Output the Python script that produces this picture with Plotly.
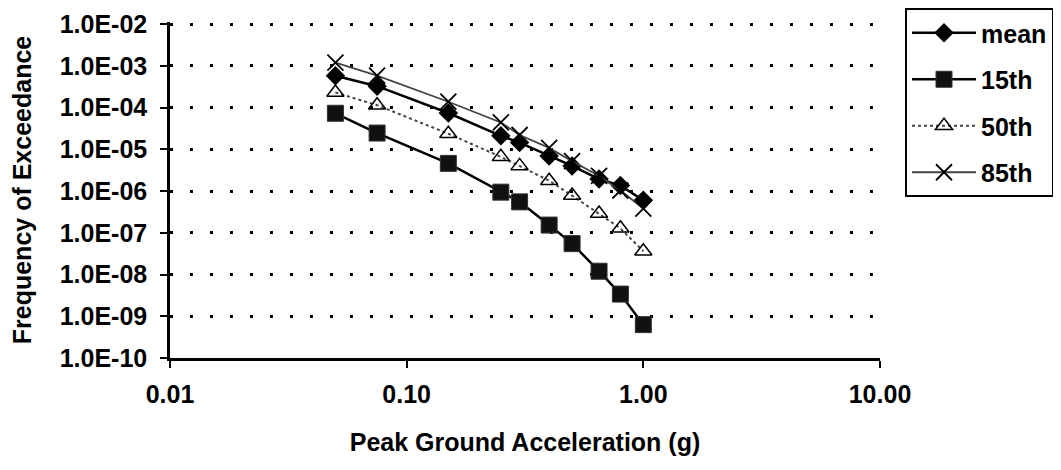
import plotly.graph_objects as go

pga = [0.05, 0.075, 0.15, 0.25, 0.3, 0.4, 0.5, 0.65, 0.8, 1.0]
mean_vals = [5.8e-4, 3.25e-4, 7.4e-5, 2.1e-5, 1.45e-5, 6.9e-6, 4.0e-6, 1.94e-6, 1.35e-6, 6.0e-7]
p15_vals = [7.3e-5, 2.45e-5, 4.6e-6, 9.4e-7, 5.5e-7, 1.53e-7, 5.5e-8, 1.2e-8, 3.4e-9, 6.3e-10]
p50_vals = [2.3e-4, 1.14e-4, 2.36e-5, 6.6e-6, 4.0e-6, 1.77e-6, 7.8e-7, 2.9e-7, 1.28e-7, 3.6e-8]
p85_vals = [1.2e-3, 5.8e-4, 1.38e-4, 4.4e-5, 2.2e-5, 1.08e-5, 5.2e-6, 2.3e-6, 1.03e-6, 3.8e-7]

series_names = ["mean", "15th", "50th", "85th"]

x_tickvals = [0.01, 0.1, 1, 10]
x_ticktext = ["0.01", "0.10", "1.00", "10.00"]
y_tickvals = [1e-2, 1e-3, 1e-4, 1e-5, 1e-6, 1e-7, 1e-8, 1e-9, 1e-10]
y_ticktext = ["1.0E-02", "1.0E-03", "1.0E-04", "1.0E-05", "1.0E-06",
              "1.0E-07", "1.0E-08", "1.0E-09", "1.0E-10"]

FONT = "Liberation Sans"
FS = 25

fig = go.Figure()

fig.add_trace(go.Scatter(
    x=pga, y=mean_vals, name=series_names[0], mode="lines+markers", legendgroup="a",
    line=dict(color="black", width=2.5),
    marker=dict(symbol="diamond", size=15, color="black", line=dict(width=0)),
))
fig.add_trace(go.Scatter(
    x=pga, y=p15_vals, name=series_names[1], mode="lines+markers", legendgroup="b",
    line=dict(color="black", width=2.5),
    marker=dict(symbol="square", size=16, color="#111111", line=dict(width=1, color="#333333")),
))
fig.add_trace(go.Scatter(
    x=pga, y=p50_vals, name=series_names[2], mode="lines+markers", legendgroup="c",
    line=dict(color="#444444", width=2, dash="dot"),
    marker=dict(symbol="triangle-up-open", size=15, color="black", line=dict(width=1.5)),
))
fig.add_trace(go.Scatter(
    x=pga, y=p85_vals, name=series_names[3], mode="lines+markers", legendgroup="d",
    line=dict(color="#444444", width=1.8),
    marker=dict(symbol="x-thin-open", size=16, color="black", line=dict(width=1.8, color="black")),
))

fig.update_layout(
    width=1061, height=470,
    margin=dict(l=162, r=189, t=14, b=120, autoexpand=False),
    paper_bgcolor="white", plot_bgcolor="white",
    font=dict(family=FONT, size=FS, color="black"),
    showlegend=True,
    legend=dict(
        xref="container", yref="container",
        x=897 / 1061, y=1.0, xanchor="left", yanchor="top",
        bordercolor="black", borderwidth=2, bgcolor="white",
        font=dict(family=FONT, size=FS, color="black", weight="bold"),
        traceorder="grouped", tracegroupgap=11, itemwidth=64,
    ),
    xaxis=dict(
        type="log", range=[-2, 1],
        tickvals=x_tickvals, ticktext=x_ticktext,
        tickfont=dict(family=FONT, size=FS, weight="bold"),
        ticklabelstandoff=5,
        showgrid=False, zeroline=False,
        showline=True, linecolor="black", linewidth=2.5,
        ticks="outside", ticklen=7, tickwidth=2, tickcolor="black",
        title=dict(text="Peak Ground Acceleration (g)",
                   font=dict(family=FONT, size=FS, weight="bold"), standoff=27),
    ),
    yaxis=dict(
        type="log", range=[-10, -1.95],
        tickvals=y_tickvals, ticktext=y_ticktext,
        tickfont=dict(family=FONT, size=FS, weight="bold"),
        ticklabelstandoff=8, ticklabeloverflow="allow",
        showgrid=True, gridcolor="black", gridwidth=3, griddash="3px,17px",
        zeroline=False,
        showline=True, linecolor="black", linewidth=2.5,
        ticks="outside", ticklen=7, tickwidth=2, tickcolor="black",
        title=dict(text="Frequency of Exceedance",
                   font=dict(family=FONT, size=FS, weight="bold"), standoff=22),
    ),
)

fig.write_html("out.html")
